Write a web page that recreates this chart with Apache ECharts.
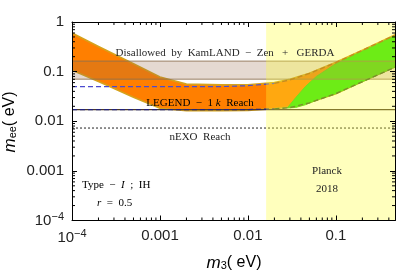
<!DOCTYPE html>
<html><head><meta charset="utf-8">
<script src="https://cdn.jsdelivr.net/npm/echarts@6/dist/echarts.min.js"></script>
<style>html,body{margin:0;padding:0;background:#fff}#c{width:400px;height:272px}</style>
</head><body><div id="c"></div>
<script>
// ---- data ----
const X_MIN = 1e-4, X_MAX = 0.47, Y_MIN = 1e-4, Y_MAX = 1;
const xTickVals = [1e-4, 1e-3, 1e-2, 1e-1];
const xTickLabels = ['10^-4', '0.001', '0.01', '0.1'];
const yTickVals = [1e-4, 1e-3, 1e-2, 1e-1, 1];
const yTickLabels = ['10^-4', '0.001', '0.01', '0.1', '1'];

const orangeX    = [1e-4, 2e-4, 5e-4, 1e-3, 2e-3, 5e-3, 0.01, 0.02, 0.03, 0.05, 0.1, 0.2, 0.47];
const orangeHigh = [0.60, 0.32, 0.144, 0.078, 0.056, 0.054, 0.054, 0.060, 0.070, 0.093, 0.155, 0.27, 0.55];
const orangeLow  = [0.107, 0.063, 0.0305, 0.0183, 0.0163, 0.0163, 0.0166, 0.0180, 0.0195, 0.024, 0.036, 0.063, 0.125];

const greenX    = [0.028, 0.035, 0.045, 0.06, 0.1, 0.2, 0.47];
const greenHigh = [0.0185, 0.030, 0.050, 0.080, 0.145, 0.26, 0.53];
const greenLow  = [0.0185, 0.019, 0.0215, 0.0265, 0.036, 0.0625, 0.123];

const kamlandBand = [0.0705, 0.163];
const legendReach = 0.0172;
const nexoReach = 0.0073;
const planckLimit = 0.0161;

const stdUpperLeftX = [1e-4, 0.005, 0.01, 0.02];
const stdUpperLeft  = [0.05, 0.05, 0.052, 0.058];
const stdUpperRightX = [0.02, 0.03, 0.05, 0.1, 0.2, 0.47];
const stdUpperRight  = [0.058, 0.068, 0.092, 0.152, 0.268, 0.545];
const stdLowerLeftX = [1e-4, 0.01, 0.02];
const stdLowerLeft  = [0.0172, 0.0172, 0.0177];
const stdLowerRightX = [0.02, 0.03, 0.05, 0.1, 0.2, 0.47];
const stdLowerRight  = [0.0177, 0.0188, 0.0235, 0.036, 0.0625, 0.123];

// ---- helpers ----
const pairs = (xs, ys) => xs.map((x, i) => [x, ys[i]]);
function bandPolygon(xs, hi, lo) {
  return pairs(xs, hi).concat(pairs(xs, lo).reverse());
}
function polySeries(pts, style, z) {
  return {
    type: 'custom', z: z, clip: true, silent: true,
    data: [[pts[0][0], pts[0][1]]],
    renderItem: function (params, api) {
      return { type: 'polygon', shape: { points: pts.map(p => api.coord(p)) }, style: style };
    }
  };
}
function lineSeries(data, color, type, width, z) {
  return {
    type: 'line', data: data, z: z, symbol: 'none', silent: true, clip: true,
    lineStyle: { color: color, width: width, type: type }, smooth: false
  };
}
function labelFor(v, vals, labels) {
  for (let i = 0; i < vals.length; i++) {
    if (Math.abs(Math.log10(v) - Math.log10(vals[i])) < 1e-6) {
      const t = labels[i];
      if (t.indexOf('^') >= 0) {
        const p = t.split('^');
        return '{b|' + p[0] + '}{s|' + p[1].replace('-', '\u2212') + '}';
      }
      return '{b|' + t + '}';
    }
  }
  return '';
}
const minorX = [], minorY = [];
for (let e = -4; e <= 0; e++) for (let m = 2; m <= 9; m++) {
  const v = m * Math.pow(10, e);
  if (v > X_MIN && v < X_MAX) minorX.push(v);
  if (v > Y_MIN && v < Y_MAX) minorY.push(v);
}

const labelRich = {
  b: { fontFamily: 'Liberation Sans', fontSize: 15, color: '#222' },
  s: { fontFamily: 'Liberation Sans', fontSize: 11, color: '#222', verticalAlign: 'top', padding: [0, 0, 8, 0] }
};
const axisCommon = {
  type: 'log', logBase: 10, z: 20,
  axisLine: { show: true, lineStyle: { color: '#000', width: 1 } },
  axisTick: { show: true, inside: true, length: 5, lineStyle: { color: '#000' } },
  splitLine: { show: false }, minorTick: { show: false }, minorSplitLine: { show: false }
};
const serif = 'Liberation Serif';

const chart = echarts.init(document.getElementById('c'));
chart.setOption({
  animation: false,
  grid: { left: 72, right: 5, top: 22, bottom: 51.5 },
  xAxis: [
    Object.assign({}, axisCommon, { position: 'bottom', min: X_MIN, max: X_MAX,
      axisLabel: { margin: 8, showMaxLabel: false, formatter: v => labelFor(v, xTickVals, xTickLabels), rich: labelRich } }),
    Object.assign({}, axisCommon, { position: 'top', min: X_MIN, max: X_MAX, axisLabel: { show: false } })
  ],
  yAxis: [
    Object.assign({}, axisCommon, { position: 'left', min: Y_MIN, max: Y_MAX,
      axisLabel: { margin: 8, formatter: v => labelFor(v, yTickVals, yTickLabels), rich: labelRich } }),
    Object.assign({}, axisCommon, { position: 'right', min: Y_MIN, max: Y_MAX, axisLabel: { show: false } })
  ],
  series: [
    polySeries(bandPolygon(orangeX, orangeHigh, orangeLow), { fill: '#ff7f00', stroke: '#d6a21c', lineWidth: 1.6 }, 1),
    polySeries(bandPolygon(greenX, greenHigh, greenLow), { fill: 'rgb(40,228,10)', stroke: 'rgb(60,200,20)', lineWidth: 1 }, 2),
    polySeries([[X_MIN, kamlandBand[0]], [X_MAX, kamlandBand[0]], [X_MAX, kamlandBand[1]], [X_MIN, kamlandBand[1]]],
      { fill: 'rgba(150,105,70,0.25)' }, 3),
    lineSeries([[X_MIN, kamlandBand[0]], [X_MAX, kamlandBand[0]]], 'rgba(140,110,80,0.85)', 'solid', 1, 4),
    lineSeries([[X_MIN, kamlandBand[1]], [X_MAX, kamlandBand[1]]], 'rgba(140,110,80,0.85)', 'solid', 1, 4),
    lineSeries([[X_MIN, legendReach], [X_MAX, legendReach]], '#4a3a2a', 'solid', 1.2, 4),
    lineSeries([[X_MIN, nexoReach], [X_MAX, nexoReach]], '#222', [2, 2], 1, 4),
    lineSeries(pairs(stdUpperLeftX, stdUpperLeft), '#4b4bd0', [5, 3], 1.2, 5),
    lineSeries(pairs(stdUpperRightX, stdUpperRight), '#a8561a', [5, 3], 1.4, 5),
    lineSeries(pairs(stdLowerLeftX, stdLowerLeft), '#23237a', [5, 3], 1.2, 5),
    lineSeries(pairs(stdLowerRightX, stdLowerRight), '#3a5a2a', [5, 3], 1.4, 5),
    polySeries([[planckLimit, Y_MIN], [X_MAX, Y_MIN], [X_MAX, Y_MAX], [planckLimit, Y_MAX]],
      { fill: 'rgba(255,255,50,0.32)' }, 10),
    {
      type: 'custom', z: 21, silent: true, clip: false,
      data: minorX.map(v => [v, Y_MIN]),
      renderItem: function (params, api) {
        const v = api.value(0);
        const b = api.coord([v, Y_MIN]), t = api.coord([v, Y_MAX]);
        return { type: 'group', children: [
          { type: 'line', shape: { x1: b[0], y1: b[1], x2: b[0], y2: b[1] - 3 }, style: { stroke: '#000', lineWidth: 1 } },
          { type: 'line', shape: { x1: t[0], y1: t[1], x2: t[0], y2: t[1] + 3 }, style: { stroke: '#000', lineWidth: 1 } }
        ] };
      }
    },
    {
      type: 'custom', z: 21, silent: true, clip: false,
      data: minorY.map(v => [X_MIN, v]),
      renderItem: function (params, api) {
        const v = api.value(1);
        const l = api.coord([X_MIN, v]), r = api.coord([X_MAX, v]);
        return { type: 'group', children: [
          { type: 'line', shape: { x1: l[0], y1: l[1], x2: l[0] + 3, y2: l[1] }, style: { stroke: '#000', lineWidth: 1 } },
          { type: 'line', shape: { x1: r[0], y1: r[1], x2: r[0] - 3, y2: r[1] }, style: { stroke: '#000', lineWidth: 1 } }
        ] };
      }
    }
  ],
  graphic: [
    { type: 'text', z: 100, x: 10, y: 122, rotation: Math.PI / 2,
      style: { text: '{i|m}{sub|ee}{n|( eV)}', align: 'center', verticalAlign: 'middle',
        rich: { i: { fontFamily: 'Liberation Sans', fontStyle: 'italic', fontSize: 17, color: '#222' },
                sub: { fontFamily: 'Liberation Sans', fontSize: 11, color: '#222', verticalAlign: 'bottom', padding: [6, 0, 0, 0] },
                n: { fontFamily: 'Liberation Sans', fontSize: 16, color: '#222' } } } },
    { type: 'text', z: 100, x: 234, y: 263,
      style: { text: '{i|m}{sub|3}{n|( eV)}', align: 'center', verticalAlign: 'middle',
        rich: { i: { fontFamily: 'Liberation Sans', fontStyle: 'italic', fontSize: 17, color: '#222' },
                sub: { fontFamily: 'Liberation Sans', fontSize: 11, color: '#222', verticalAlign: 'bottom', padding: [6, 0, 0, 0] },
                n: { fontFamily: 'Liberation Sans', fontSize: 16, color: '#222' } } } },
    { type: 'text', z: 100, x: 225, y: 53,
      style: { text: 'Disallowed  by  KamLAND  \u2212  Zen   +   GERDA', align: 'center', verticalAlign: 'middle',
        font: '11px "Liberation Serif"', fill: '#2a2a2a' } },
    { type: 'text', z: 100, x: 200, y: 103,
      style: { text: '{a|LEGEND  \u2212  1 }{k|k}{a|  Reach}', align: 'center', verticalAlign: 'middle',
        rich: { a: { fontFamily: serif, fontSize: 11, color: '#4a1500' },
                k: { fontFamily: serif, fontStyle: 'italic', fontSize: 11, color: '#4a1500' } } } },
    { type: 'text', z: 100, x: 200, y: 137,
      style: { text: 'nEXO  Reach', align: 'center', verticalAlign: 'middle', font: '11px "Liberation Serif"', fill: '#222' } },
    { type: 'text', z: 100, x: 327, y: 171,
      style: { text: 'Planck', align: 'center', verticalAlign: 'middle', font: '11px "Liberation Serif"', fill: '#222' } },
    { type: 'text', z: 100, x: 327, y: 189,
      style: { text: '2018', align: 'center', verticalAlign: 'middle', font: '11px "Liberation Serif"', fill: '#222' } },
    { type: 'text', z: 100, x: 82, y: 185,
      style: { text: '{a|Type  \u2212  }{i|I}{a|  ;  IH}', verticalAlign: 'middle',
        rich: { a: { fontFamily: serif, fontSize: 11, color: '#222' },
                i: { fontFamily: serif, fontStyle: 'italic', fontSize: 11, color: '#222' } } } },
    { type: 'text', z: 100, x: 97, y: 203,
      style: { text: '{i|r}{a|  =  0.5}', verticalAlign: 'middle',
        rich: { a: { fontFamily: serif, fontSize: 11, color: '#222' },
                i: { fontFamily: serif, fontStyle: 'italic', fontSize: 11, color: '#222' } } } }
  ]
});
</script></body></html>
